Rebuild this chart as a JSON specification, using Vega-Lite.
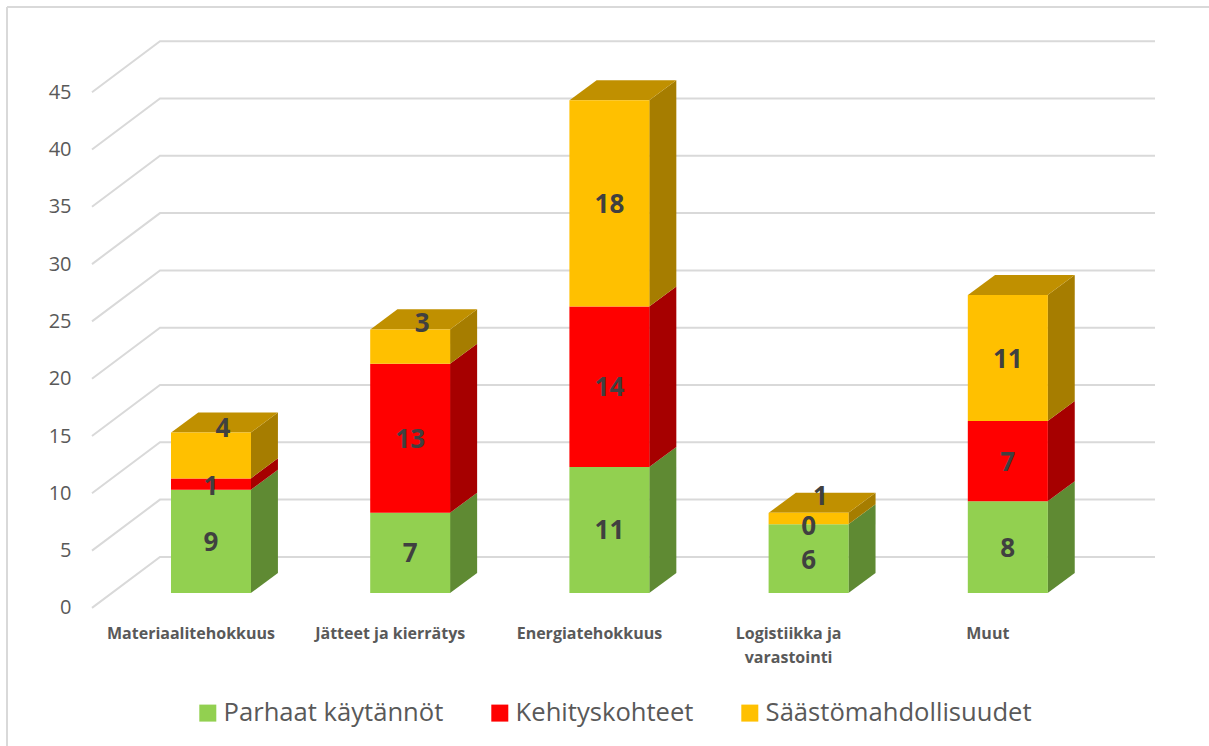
{
"$schema":"https://vega.github.io/schema/vega-lite/v6.json",
"width":1209,"height":746,"padding":0,"autosize":{"type":"none"},"background":"white",
"view":{"stroke":null},
"datasets":{
"bars":[
{"category":"Materiaalitehokkuus","pos":1,"series":"Parhaat käytännöt","value":9,"start":0,"end":9,"labelX":1,"labelY":4.5},
{"category":"Materiaalitehokkuus","pos":1,"series":"Kehityskohteet","value":1,"start":9,"end":10,"labelX":1,"labelY":9.4},
{"category":"Materiaalitehokkuus","pos":1,"series":"Säästömahdollisuudet","value":4,"start":10,"end":14,"labelX":1.06,"labelY":14.4},
{"category":"Jätteet ja kierrätys","pos":2,"series":"Parhaat käytännöt","value":7,"start":0,"end":7,"labelX":2,"labelY":3.5},
{"category":"Jätteet ja kierrätys","pos":2,"series":"Kehityskohteet","value":13,"start":7,"end":20,"labelX":2,"labelY":13.5},
{"category":"Jätteet ja kierrätys","pos":2,"series":"Säästömahdollisuudet","value":3,"start":20,"end":23,"labelX":2.06,"labelY":23.6},
{"category":"Energiatehokkuus","pos":3,"series":"Parhaat käytännöt","value":11,"start":0,"end":11,"labelX":3,"labelY":5.5},
{"category":"Energiatehokkuus","pos":3,"series":"Kehityskohteet","value":14,"start":11,"end":25,"labelX":3,"labelY":18},
{"category":"Energiatehokkuus","pos":3,"series":"Säästömahdollisuudet","value":18,"start":25,"end":43,"labelX":3,"labelY":34},
{"category":"Logistiikka ja varastointi","pos":4,"series":"Parhaat käytännöt","value":6,"start":0,"end":6,"labelX":4,"labelY":2.9},
{"category":"Logistiikka ja varastointi","pos":4,"series":"Kehityskohteet","value":0,"start":6,"end":6,"labelX":4,"labelY":5.9},
{"category":"Logistiikka ja varastointi","pos":4,"series":"Säästömahdollisuudet","value":1,"start":6,"end":7,"labelX":4.06,"labelY":8.5},
{"category":"Muut","pos":5,"series":"Parhaat käytännöt","value":8,"start":0,"end":8,"labelX":5,"labelY":4},
{"category":"Muut","pos":5,"series":"Kehityskohteet","value":7,"start":8,"end":15,"labelX":5,"labelY":11.5},
{"category":"Muut","pos":5,"series":"Säästömahdollisuudet","value":11,"start":15,"end":26,"labelX":5,"labelY":20.5}
],
"side":[
{"face":"1a","series":"Parhaat käytännöt","x":1.2,"low":0,"high":9},{"face":"1a","series":"Parhaat käytännöt","x":1.336,"low":1.75,"high":10.75},
{"face":"1b","series":"Kehityskohteet","x":1.2,"low":9,"high":10},{"face":"1b","series":"Kehityskohteet","x":1.336,"low":10.75,"high":11.75},
{"face":"1c","series":"Säästömahdollisuudet","x":1.2,"low":10,"high":14},{"face":"1c","series":"Säästömahdollisuudet","x":1.336,"low":11.75,"high":15.75},
{"face":"2a","series":"Parhaat käytännöt","x":2.2,"low":0,"high":7},{"face":"2a","series":"Parhaat käytännöt","x":2.336,"low":1.75,"high":8.75},
{"face":"2b","series":"Kehityskohteet","x":2.2,"low":7,"high":20},{"face":"2b","series":"Kehityskohteet","x":2.336,"low":8.75,"high":21.75},
{"face":"2c","series":"Säästömahdollisuudet","x":2.2,"low":20,"high":23},{"face":"2c","series":"Säästömahdollisuudet","x":2.336,"low":21.75,"high":24.75},
{"face":"3a","series":"Parhaat käytännöt","x":3.2,"low":0,"high":11},{"face":"3a","series":"Parhaat käytännöt","x":3.336,"low":1.75,"high":12.75},
{"face":"3b","series":"Kehityskohteet","x":3.2,"low":11,"high":25},{"face":"3b","series":"Kehityskohteet","x":3.336,"low":12.75,"high":26.75},
{"face":"3c","series":"Säästömahdollisuudet","x":3.2,"low":25,"high":43},{"face":"3c","series":"Säästömahdollisuudet","x":3.336,"low":26.75,"high":44.75},
{"face":"4a","series":"Parhaat käytännöt","x":4.2,"low":0,"high":6},{"face":"4a","series":"Parhaat käytännöt","x":4.336,"low":1.75,"high":7.75},
{"face":"4c","series":"Säästömahdollisuudet","x":4.2,"low":6,"high":7},{"face":"4c","series":"Säästömahdollisuudet","x":4.336,"low":7.75,"high":8.75},
{"face":"5a","series":"Parhaat käytännöt","x":5.2,"low":0,"high":8},{"face":"5a","series":"Parhaat käytännöt","x":5.336,"low":1.75,"high":9.75},
{"face":"5b","series":"Kehityskohteet","x":5.2,"low":8,"high":15},{"face":"5b","series":"Kehityskohteet","x":5.336,"low":9.75,"high":16.75},
{"face":"5c","series":"Säästömahdollisuudet","x":5.2,"low":15,"high":26},{"face":"5c","series":"Säästömahdollisuudet","x":5.336,"low":16.75,"high":27.75}
],
"top":[
{"face":1,"x":0.8,"low":14,"high":14},{"face":1,"x":0.936,"low":14,"high":15.75},{"face":1,"x":1.2,"low":14,"high":15.75},{"face":1,"x":1.336,"low":15.75,"high":15.75},
{"face":2,"x":1.8,"low":23,"high":23},{"face":2,"x":1.936,"low":23,"high":24.75},{"face":2,"x":2.2,"low":23,"high":24.75},{"face":2,"x":2.336,"low":24.75,"high":24.75},
{"face":3,"x":2.8,"low":43,"high":43},{"face":3,"x":2.936,"low":43,"high":44.75},{"face":3,"x":3.2,"low":43,"high":44.75},{"face":3,"x":3.336,"low":44.75,"high":44.75},
{"face":4,"x":3.8,"low":7,"high":7},{"face":4,"x":3.936,"low":7,"high":8.75},{"face":4,"x":4.2,"low":7,"high":8.75},{"face":4,"x":4.336,"low":8.75,"high":8.75},
{"face":5,"x":4.8,"low":26,"high":26},{"face":5,"x":4.936,"low":26,"high":27.75},{"face":5,"x":5.2,"low":26,"high":27.75},{"face":5,"x":5.336,"low":27.75,"high":27.75}
],
"grid":[
{"tick":0,"x":0.4026,"y":-1.3},{"tick":0,"x":0.744,"y":3.15},{"tick":0,"x":5.739,"y":3.15},
{"tick":5,"x":0.4026,"y":3.7},{"tick":5,"x":0.744,"y":8.15},{"tick":5,"x":5.739,"y":8.15},
{"tick":10,"x":0.4026,"y":8.7},{"tick":10,"x":0.744,"y":13.15},{"tick":10,"x":5.739,"y":13.15},
{"tick":15,"x":0.4026,"y":13.7},{"tick":15,"x":0.744,"y":18.15},{"tick":15,"x":5.739,"y":18.15},
{"tick":20,"x":0.4026,"y":18.7},{"tick":20,"x":0.744,"y":23.15},{"tick":20,"x":5.739,"y":23.15},
{"tick":25,"x":0.4026,"y":23.7},{"tick":25,"x":0.744,"y":28.15},{"tick":25,"x":5.739,"y":28.15},
{"tick":30,"x":0.4026,"y":28.7},{"tick":30,"x":0.744,"y":33.15},{"tick":30,"x":5.739,"y":33.15},
{"tick":35,"x":0.4026,"y":33.7},{"tick":35,"x":0.744,"y":38.15},{"tick":35,"x":5.739,"y":38.15},
{"tick":40,"x":0.4026,"y":38.7},{"tick":40,"x":0.744,"y":43.15},{"tick":40,"x":5.739,"y":43.15},
{"tick":45,"x":0.4026,"y":43.7},{"tick":45,"x":0.744,"y":48.15},{"tick":45,"x":5.739,"y":48.15}
],
"cats":[
{"category":"Materiaalitehokkuus","pos":1,"lines":["Materiaalitehokkuus"]},
{"category":"Jätteet ja kierrätys","pos":2,"lines":["Jätteet ja kierrätys"]},
{"category":"Energiatehokkuus","pos":3,"lines":["Energiatehokkuus"]},
{"category":"Logistiikka ja varastointi","pos":4,"lines":["Logistiikka ja","varastointi"]},
{"category":"Muut","pos":5,"lines":["Muut"]}
]
},
"layer":[
{"data":{"values":[{"frame":1}]},"mark":{"type":"rule","color":"#d9d9d9","strokeWidth":2},
 "encoding":{"x":{"datum":-0.024,"type":"quantitative","scale":{"domain":[-0.0592,6.01],"nice":false,"zero":false,"padding":0},"axis":null},
 "y":{"datum":-13.35,"type":"quantitative","scale":{"domain":[-13.351,51.745],"nice":false,"zero":false},
  "axis":{"title":null,"orient":"left","offset":-73,"values":[0,5,10,15,20,25,30,35,40,45],"grid":false,"domain":false,"ticks":false,"labelPadding":2,"labelOffset":15,"labelFont":"Open Sans","labelFontSize":20,"labelColor":"#595959","labelBaseline":"middle"}},"y2":{"datum":51.13}}},
{"data":{"values":[{"frame":1}]},"mark":{"type":"rule","color":"#d9d9d9","strokeWidth":2},
 "encoding":{"x":{"datum":-0.024,"type":"quantitative","scale":{"domain":[-0.0592,6.01],"nice":false,"zero":false,"padding":0},"axis":null},"x2":{"datum":6.01},
 "y":{"datum":51.13,"type":"quantitative","scale":{"domain":[-13.351,51.745],"nice":false,"zero":false}}}},
{"data":{"name":"grid"},"mark":{"type":"line","color":"#d9d9d9","strokeWidth":2,"interpolate":"linear"},
 "encoding":{"detail":{"field":"tick"},
 "x":{"field":"x","type":"quantitative","scale":{"domain":[-0.0592,6.01],"nice":false,"zero":false,"padding":0},"axis":null},
 "y":{"field":"y","type":"quantitative","scale":{"domain":[-13.351,51.745],"nice":false,"zero":false}}}},
{"data":{"name":"side"},"mark":{"type":"area","interpolate":"linear"},
 "encoding":{"detail":{"field":"face"},
 "x":{"field":"x","type":"quantitative","scale":{"domain":[-0.0592,6.01],"nice":false,"zero":false,"padding":0},"axis":null},
 "y":{"field":"low","type":"quantitative","scale":{"domain":[-13.351,51.745],"nice":false,"zero":false}},"y2":{"field":"high"},
 "color":{"field":"series","type":"nominal","legend":null,"scale":{"domain":["Parhaat käytännöt","Kehityskohteet","Säästömahdollisuudet"],"range":["#5F8A33","#A60000","#A67D00"]}}}},
{"data":{"name":"top"},"mark":{"type":"area","interpolate":"linear","color":"#C09000"},
 "encoding":{"detail":{"field":"face"},
 "x":{"field":"x","type":"quantitative","scale":{"domain":[-0.0592,6.01],"nice":false,"zero":false,"padding":0},"axis":null},
 "y":{"field":"low","type":"quantitative","scale":{"domain":[-13.351,51.745],"nice":false,"zero":false}},"y2":{"field":"high"}}},
{"data":{"name":"bars"},"mark":{"type":"bar","size":80,"orient":"vertical"},
 "encoding":{
 "x":{"field":"pos","type":"quantitative","scale":{"domain":[-0.0592,6.01],"nice":false,"zero":false,"padding":0},"axis":null},
 "y":{"field":"start","type":"quantitative","scale":{"domain":[-13.351,51.745],"nice":false,"zero":false}},"y2":{"field":"end"},
 "color":{"field":"series","type":"nominal","scale":{"domain":["Parhaat käytännöt","Kehityskohteet","Säästömahdollisuudet"],"range":["#92D050","#FF0000","#FFC000"]},
  "legend":{"title":null,"orient":"none","legendX":195,"legendY":700,"direction":"horizontal","columns":3,"columnPadding":43,"padding":0,"symbolType":"square","symbolSize":289,"symbolStrokeWidth":0,"labelFont":"Open Sans","labelFontSize":25.6,"labelColor":"#595959","labelOffset":3,"labelLimit":400}}}},
{"data":{"name":"bars"},"mark":{"type":"text","font":"Open Sans","fontWeight":"bold","fontSize":26,"color":"#404040","align":"center","baseline":"middle","dy":1.5},
 "encoding":{
 "x":{"field":"labelX","type":"quantitative","scale":{"domain":[-0.0592,6.01],"nice":false,"zero":false,"padding":0},"axis":null},
 "y":{"field":"labelY","type":"quantitative","scale":{"domain":[-13.351,51.745],"nice":false,"zero":false}},
 "text":{"field":"value","type":"quantitative"}}},
{"data":{"name":"cats"},"mark":{"type":"text","font":"Open Sans","fontWeight":"bold","fontSize":16,"color":"#595959","align":"center","baseline":"top","xOffset":-20,"lineHeight":24},
 "encoding":{
 "x":{"field":"pos","type":"quantitative","scale":{"domain":[-0.0592,6.01],"nice":false,"zero":false,"padding":0},"axis":null},
 "y":{"datum":-2.85,"type":"quantitative","scale":{"domain":[-13.351,51.745],"nice":false,"zero":false}},
 "text":{"field":"lines"}}}
],
"resolve":{"scale":{"color":"independent"}}
}
